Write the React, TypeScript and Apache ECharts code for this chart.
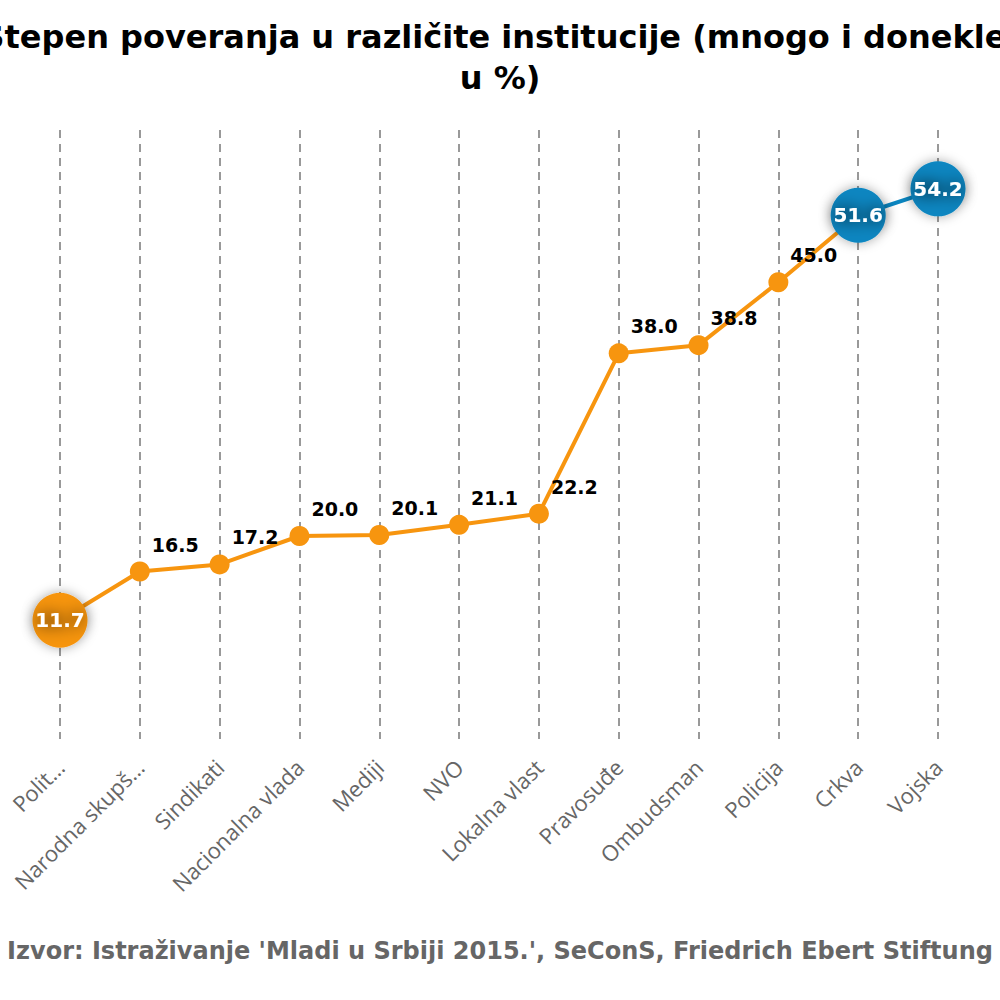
import React, { useEffect, useRef } from "react";
import * as echarts from "echarts";

const categories = [
  "Političke partije",
  "Narodna skupština",
  "Sindikati",
  "Nacionalna vlada",
  "Mediji",
  "NVO",
  "Lokalna vlast",
  "Pravosuđe",
  "Ombudsman",
  "Policija",
  "Crkva",
  "Vojska",
];
const values = [11.7, 16.5, 17.2, 20.0, 20.1, 21.1, 22.2, 38.0, 38.8, 45.0, 51.6, 54.2];
const labelWidths: Record<string, number> = { "Političke partije": 66, "Narodna skupština": 175 };
const threshold = 50;
const titleText = "Stepen poveranja u različite institucije (mnogo i donekle,\nu %)";
const footerText = "Izvor: Istraživanje 'Mladi u Srbiji 2015.', SeConS, Friedrich Ebert Stiftung";

const ORANGE = "#F7950F";
const BLUE = "#0A86C1";

export default function App() {
  const ref = useRef<HTMLDivElement>(null);
  useEffect(() => {
    if (!ref.current) return;
    const chart = echarts.init(ref.current, null, { renderer: "svg" });
    const minV = Math.min(...values);
    const seriesData = values.map((v) => {
      const big = v === minV || v > threshold;
      if (!big) return { value: v };
      return {
        value: v,
        symbolSize: 55,
        itemStyle: { shadowBlur: 12, shadowColor: "rgba(0,0,0,0.35)" },
        label: {
          position: "inside",
          offset: [0, 0],
          color: "#fff",
          fontSize: 20,
          textShadowColor: "rgba(0,0,0,1)",
          textShadowBlur: 16,
        },
        z: 5,
      };
    });
    chart.setOption({
      animation: false,
      title: [
        {
          text: titleText,
          left: "center",
          top: 11,
          textStyle: {
            fontFamily: "DejaVu Sans",
            fontWeight: "bold",
            fontSize: 32,
            lineHeight: 41,
            color: "#000",
          },
        },
        {
          text: footerText,
          left: "center",
          top: 934,
          textStyle: {
            fontFamily: "DejaVu Sans",
            fontWeight: "bold",
            fontSize: 24,
            color: "#666",
          },
        },
      ],
      grid: { left: 60, right: 62, top: 130, bottom: 261 },
      visualMap: {
        type: "piecewise",
        show: false,
        dimension: 1,
        seriesIndex: 0,
        pieces: [
          { min: 0, max: threshold, color: ORANGE },
          { min: threshold, max: 100, color: BLUE },
        ],
      },
      xAxis: {
        type: "category",
        boundaryGap: false,
        data: categories.map((c) =>
          labelWidths[c]
            ? { value: c, textStyle: { width: labelWidths[c], overflow: "truncate", ellipsis: "…" } }
            : { value: c }
        ),
        axisLine: { show: false },
        axisTick: { show: false },
        axisLabel: {
          rotate: 45,
          margin: 24,
          color: "#666",
          fontSize: 22,
          fontFamily: "Open Sans",
          interval: 0,
        },
        splitLine: {
          show: true,
          lineStyle: { color: "#999", width: 2, type: [8, 6] },
        },
      },
      yAxis: {
        type: "value",
        min: 0,
        max: 60,
        show: false,
        splitLine: { show: false },
      },
      series: [
        {
          type: "line",
          data: seriesData,
          symbol: "circle",
          symbolSize: 20,
          lineStyle: { width: 4 },
          label: {
            show: true,
            position: "right",
            distance: 3,
            offset: [-1, -27],
            fontFamily: "DejaVu Sans",
            fontWeight: "bold",
            fontSize: 19,
            color: "#000",
            formatter: (p: any) => Number(p.value).toFixed(1),
          },
        },
      ],
    });
    return () => chart.dispose();
  }, []);
  return (
    <div
      ref={ref}
      style={{ position: "fixed", left: 0, top: 0, width: 1000, height: 1000, background: "#fff" }}
    />
  );
}
